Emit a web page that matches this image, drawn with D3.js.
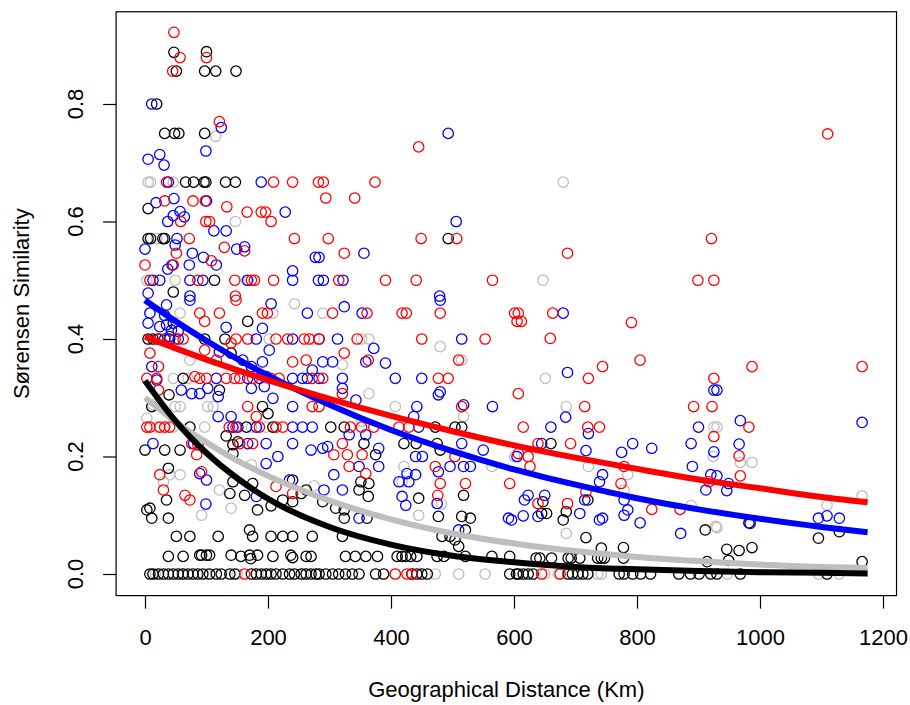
<!DOCTYPE html>
<meta charset="utf-8">
<style>
body { margin: 0; background: #fff; }
text { font-family: "Liberation Sans", Arial, Helvetica, sans-serif; }
.pt { fill: none; stroke-width: 1.3; }
</style>
<svg width="910" height="705"></svg>
<script src="https://cdn.jsdelivr.net/npm/d3@7"></script>
<script>

// tick labels
var xTicks = [0, 200, 400, 600, 800, 1000, 1200];
var yTicks = [0, 0.2, 0.4, 0.6, 0.8];

// points: [distance km, similarity]
var blackPts = [[47,.888],[100,.889],[51,.856],[97,.856],[115,.856],[148,.856],[19,.80],[32,.75],[48,.75],[55,.75],[97,.75],
  [66,.667],[79,.667],[96,.667],[99,.667],[131,.667],[147,.667],[5,.622],[5,.571],[9,.571],[29,.571],[32,.571],[113,.50],[46,.48],
  [493,.571],[46,.427],[167,.43],[5,.40],[13,.40],[21,.40],[40,.40],[97,.40],[130,.40],[140,.376],[62,.333],[39,.305],[121,.313],
  [11,.285],[191,.285],[200,.273],[73,.25],[165,.25],[208,.25],[132,.235],[0,.211],[32,.211],[57,.211],[143,.22],[151,.225],
  [143,.205],[38,.18],[143,.157],[175,.154],[262,.143],[240,.16],[35,.126],[138,.137],[162,.134],[183,.109],[205,.116],[240,.123],
  [224,.126],[254,.137],[3,.109],[8,.112],[11,.095],[38,.095],
  [51,.064],[73,.064],[119,.064],[170,.075],[175,.064],[205,.064],[224,.064],[240,.064],[272,.064],
  [38,.03],[62,.03],[89,.032],[92,.032],[100,.032],[105,.032],[140,.032],[156,.03],[170,.032],[172,.026],[183,.032],[208,.03],
  [237,.032],[240,.028],[262,.03],[270,.03],
  [8,0],[13,0],[22,0],[30,0],[38,0],[46,0],[54,0],[62,0],[70,0],[78,0],[86,0],[94,0],[105,0],[116,0],[124,0],[138,0],[146,0],
  [173,0],[181,0],[189,0],[197,0],[205,0],[213,0],[224,0],[235,0],[243,0],[254,0],[262,0],[270,0],[278,0],
  [472,.25],[302,.25],[324,.25],[504,.25],[515,.25],[356,.222],[421,.222],[441,.222],[475,.222],[480,.211],[375,.203],[351,.157],
  [364,.154],[348,.143],[363,.132],[445,.129],[518,.134],[289,.123],[310,.112],[324,.109],[324,.095],[361,.095],[477,.098],
  [515,.098],[529,.095],[521,.075],[483,.064],[496,.064],[504,.058],[510,.047],[321,.064],
  [326,.03],[342,.03],[359,.03],[378,.03],[410,.03],[418,.03],[424,.03],[432,.03],[442,.03],[475,.03],[486,.03],[521,.03],[564,.03],[593,.03],
  [283,0],[294,0],[305,0],[315,0],[326,0],[337,0],[348,0],[375,0],[388,0],[434,0],[442,0],[450,0],[459,0],[593,0],[604,0],
  [660,.222],[647,.123],[685,.106],[720,.126],[911,.075],[645,.103],[653,.103],[680,.092],[717,.062],[742,.044],[778,.045],
  [778,.027],[914,.021],[636,.027],[642,.027],[661,.027],[688,.027],[693,.027],[707,.027],[736,.027],[742,.027],[747,.027],
  [607,0],[615,0],[623,0],[631,0],[688,0],[695,0],[704,0],[712,0],[720,0],[771,0],[779,0],[793,0],[806,0],[822,0],[868,0],
  [887,0],[901,0],[920,0],[982,.087],[1095,.061],[1129,.072],[946,.042],[966,.04],[987,.045],[949,.023],[1166,.021],
  [930,0],[968,0],[1109,0]];

var greyPts = [[115,.745],[5,.667],[9,.667],[46,.667],[147,.60],[19,.571],[3,.50],[49,.50],[165,.50],[680,.667],[647,.50],
  [8,.444],[57,.444],[208,.444],[243,.46],[202,.40],[275,.40],[73,.364],[46,.333],[70,.333],[197,.333],[3,.265],[13,.288],
  [49,.285],[57,.285],[102,.285],[111,.285],[19,.25],[46,.25],[97,.25],[173,.25],[197,.25],[173,.186],[30,.157],[40,.169],
  [57,.169],[121,.143],[140,.112],[92,.10],[275,.15],[17,0],[60,0],[100,0],[150,0],[200,0],[258,0],
  [289,.444],[352,.40],[364,.40],[480,.387],[321,.356],[515,.364],[364,.307],[407,.285],[518,.268],[352,.26],[421,.183],
  [564,.183],[601,.20],[482,.119],[445,.10],[418,.157],[472,0],[510,0],[553,0],[407,0],
  [651,.333],[685,.285],[925,.25],[924,.20],[721,.183],[785,.169],[779,.143],[888,.117],[928,.081],[685,.069],
  [650,0],[736,0],[742,0],[672,0],[930,.25],[968,.19],[987,.19],[1166,.133],[1109,.117],[930,.079],[947,0],[1095,0],[1129,0]];

var bluePts = [[11,.80],[124,.76],[5,.706],[24,.714],[31,.696],[99,.72],[38,.667],[189,.667],[18,.632],[47,.639],[100,.635],
  [228,.616],[46,.61],[57,.617],[64,.608],[37,.60],[112,.584],[132,.584],[52,.571],[0,.553],[49,.56],[77,.546],[149,.553],
  [162,.557],[277,.539],[95,.539],[116,.526],[44,.526],[72,.526],[37,.519],[13,.50],[24,.50],[73,.50],[94,.50],[167,.50],
  [240,.50],[282,.50],[240,.516],[5,.478],[73,.473],
  [493,.75],[506,.60],[356,.546],[283,.539],[290,.50],[322,.50],[479,.473],
  [35,.458],[8,.444],[32,.44],[73,.466],[132,.42],[205,.46],[191,.418],[264,.444],[5,.427],[24,.421],[35,.424],[43,.415],
  [54,.413],[40,.404],[32,.40],[54,.40],[181,.40],[240,.40],[11,.353],[121,.378],[159,.364],[173,.353],[191,.361],[202,.381],
  [272,.347],[197,.336],[116,.333],[167,.333],[186,.333],[240,.333],[256,.333],[264,.333],[283,.333],[19,.33],[59,.313],
  [76,.307],[89,.307],[102,.316],[119,.302],[173,.316],[194,.319],[208,.299],[240,.285],[119,.268],[140,.268],[143,.25],
  [151,.25],[181,.25],[240,.25],[256,.25],[272,.25],[13,.222],[79,.222],[167,.222],[197,.222],[240,.222],[270,.211],
  [197,.188],[216,.20],[89,.171],[100,.16],[235,.16],[99,.119],[181,.132],
  [324,.455],[353,.444],[480,.466],[283,.40],[313,.40],[515,.40],[372,.384],[289,.361],[305,.361],[359,.361],[391,.359],
  [407,.333],[450,.333],[321,.333],[321,.316],[343,.296],[477,.305],[480,.31],[442,.285],[518,.288],[565,.285],[437,.268],
  [445,.25],[332,.237],[359,.237],[297,.217],[515,.222],[550,.211],[605,.20],[380,.214],[440,.20],[451,.20],[289,.214],
  [307,.169],[348,.183],[380,.183],[426,.171],[440,.169],[477,.174],[496,.183],[518,.183],[529,.183],[413,.157],[429,.157],
  [291,.143],[321,.143],[418,.132],[424,.117],[475,.12],[348,.095],[591,.095],[596,.092],[510,.075],
  [680,.444],[687,.343],[684,.267],[660,.25],[721,.239],[925,.313],[900,.25],[888,.222],[925,.208],[890,.183],[645,.222],
  [717,.21],[793,.222],[775,.207],[824,.214],[744,.169],[739,.157],[779,.126],[912,.143],[920,.169],[623,.134],[617,.126],
  [650,.134],[715,.126],[707,.103],[739,.092],[744,.095],[785,.109],[779,.10],[805,.087],[871,.069],[615,.099],[639,.098],
  [930,.313],[968,.261],[1166,.258],[966,.221],[930,.167],[949,.154],[946,.142],[1095,.095],[1109,.099],[1129,.095],[984,.086]];

var redPts = [[47,.922],[57,.879],[100,.879],[45,.856],[121,.77],[35,.667],[209,.667],[240,.667],[282,.667],[32,.635],[78,.635],
  [98,.635],[133,.625],[166,.616],[189,.616],[196,.616],[205,.60],[58,.60],[99,.60],[105,.60],[72,.571],[243,.571],[51,.546],
  [129,.556],[162,.55],[108,.533],[0,.526],[46,.526],[8,.50],[86,.50],[146,.50],[173,.50],[178,.50],[209,.50],[147,.473],
  [445,.727],[290,.667],[374,.667],[294,.64],[341,.64],[298,.571],[449,.571],[507,.571],[324,.546],[315,.50],[391,.50],
  [441,.50],[565,.50],[687,.546],[921,.571],[899,.50],[925,.50],[1110,.749],
  [89,.444],[97,.43],[121,.444],[148,.466],[191,.444],[199,.444],[24,.40],[49,.40],[62,.40],[148,.40],[167,.40],[213,.40],
  [232,.40],[259,.40],[267,.40],[283,.40],[8,.376],[22,.353],[97,.381],[116,.364],[81,.336],[140,.393],[240,.361],[262,.364],
  [3,.333],[19,.333],[89,.333],[100,.333],[132,.333],[146,.333],[154,.333],[175,.333],[205,.333],[218,.333],[272,.333],
  [22,.313],[272,.285],[167,.285],[181,.268],[3,.25],[8,.25],[24,.25],[32,.25],[40,.25],[137,.25],[148,.25],[186,.25],
  [213,.25],[224,.25],[76,.222],[86,.22],[154,.222],[175,.222],[84,.203],[24,.169],[92,.174],[213,.149],[30,.143],[65,.134],
  [73,.126],[240,.137],[162,0],
  [305,.444],[361,.444],[418,.444],[425,.444],[480,.444],[601,.444],[605,.43],[345,.40],[450,.40],[553,.40],[324,.376],
  [363,.364],[510,.364],[477,.333],[493,.333],[289,.333],[321,.307],[515,.285],[283,.285],[334,.25],[352,.25],[372,.25],
  [413,.25],[429,.25],[321,.222],[504,.20],[307,.203],[329,.203],[353,.203],[332,.183],[359,.171],[472,.183],[480,.154],
  [521,.154],[593,.154],[476,.134],[407,0],[426,0],[434,0],
  [607,.444],[612,.43],[663,.444],[659,.401],[791,.428],[805,.364],[744,.353],[721,.333],[607,.307],[715,.285],[615,.25],
  [720,.25],[739,.25],[925,.333],[892,.285],[922,.285],[925,.234],[639,.222],[692,.222],[607,.205],[623,.20],[626,.183],
  [779,.183],[774,.154],[717,.14],[917,.157],[639,.12],[687,.12],[824,.11],[870,.11],[645,0],[675,0],
  [987,.353],[1166,.353],[982,.25],[966,.201],[968,.167]];

// fitted decay curves
var curveDist = [0, 50, 100, 150, 200, 300, 400, 500, 600, 700, 800, 900, 1000, 1100, 1175];
var redFit   = [0.404, 0.384, 0.365, 0.347, 0.330, 0.298, 0.269, 0.243, 0.219, 0.198, 0.179, 0.161, 0.146, 0.131, 0.122];
var blueFit  = [0.466, 0.430, 0.397, 0.366, 0.338, 0.288, 0.245, 0.209, 0.178, 0.152, 0.129, 0.110, 0.094, 0.080, 0.071];
var greyFit  = [0.300, 0.259, 0.224, 0.193, 0.167, 0.125, 0.093, 0.069, 0.052, 0.039, 0.029, 0.022, 0.016, 0.012, 0.010];
var blackFit = [0.329, 0.260, 0.206, 0.163, 0.128, 0.080, 0.050, 0.031, 0.020, 0.012, 0.008, 0.005, 0.003, 0.002, 0.001];

var svg = d3.select("svg");

var x = d3.scaleLinear().domain([0, 1200]).range([145, 883]);
var y = d3.scaleLinear().domain([0, 0.8]).range([574, 104]);

var boxL = x(-47), boxR = x(1222), boxT = y(0.957), boxB = y(-0.0368);

var series = [
  {pts: greyPts, color: "#bebebe"},
  {pts: blackPts, color: "#000000"},
  {pts: bluePts, color: "#0000ff"},
  {pts: redPts, color: "#ff0000"}
];

series.forEach(function(s) {
  svg.append("g").selectAll("circle")
    .data(s.pts)
    .enter()
    .append("circle")
    .attr("class", "pt")
    .attr("cx", function(d) { return x(d[0]); })
    .attr("cy", function(d) { return y(d[1]); })
    .attr("r", 5.2)
    .attr("stroke", s.color);
});

var line = d3.line()
  .x(function(d, i) { return x(curveDist[i]); })
  .y(function(d) { return y(d); })
  .curve(d3.curveMonotoneX);

[[greyFit, "#bebebe"], [blueFit, "#0000ff"], [redFit, "#ff0000"], [blackFit, "#000000"]].forEach(function(c) {
  svg.append("path")
    .attr("d", line(c[0]))
    .attr("fill", "none")
    .attr("stroke", c[1])
    .attr("stroke-width", 6);
});

// box
svg.append("rect")
  .attr("x", boxL).attr("y", boxT)
  .attr("width", boxR - boxL).attr("height", boxB - boxT)
  .attr("fill", "none").attr("stroke", "#000").attr("stroke-width", 1.2);

var xAxis = svg.append("g")
  .attr("transform", "translate(0," + boxB + ")")
  .call(d3.axisBottom(x).tickValues(xTicks).tickSize(13).tickFormat(d3.format("d")));
xAxis.select(".domain").remove();
xAxis.selectAll("line").attr("stroke-width", 1.2);
xAxis.selectAll("text")
  .attr("y", 645 - boxB).attr("dy", null)
  .style("font-size", "22px")
  .style("font-family", "Liberation Sans, Arial, sans-serif");

var yAxis = svg.append("g")
  .attr("transform", "translate(" + boxL + ",0)")
  .call(d3.axisLeft(y).tickValues(yTicks).tickSize(13));
yAxis.select(".domain").remove();
yAxis.selectAll("line").attr("stroke-width", 1.2);
yAxis.selectAll("text").remove();

svg.append("g").selectAll("text")
  .data(yTicks)
  .enter()
  .append("text")
  .attr("transform", function(d) { return "translate(83," + y(d) + ") rotate(-90)"; })
  .attr("text-anchor", "middle")
  .style("font-size", "22px")
  .text(function(d) { return d3.format(".1f")(d); });

svg.append("text")
  .attr("x", (boxL + boxR) / 2)
  .attr("y", 697)
  .attr("text-anchor", "middle")
  .style("font-size", "22px")
  .text("Geographical Distance (Km)");

svg.append("text")
  .attr("transform", "translate(29," + (boxT + boxB) / 2 + ") rotate(-90)")
  .attr("text-anchor", "middle")
  .style("font-size", "22px")
  .text("Sørensen Similarity");

</script>
